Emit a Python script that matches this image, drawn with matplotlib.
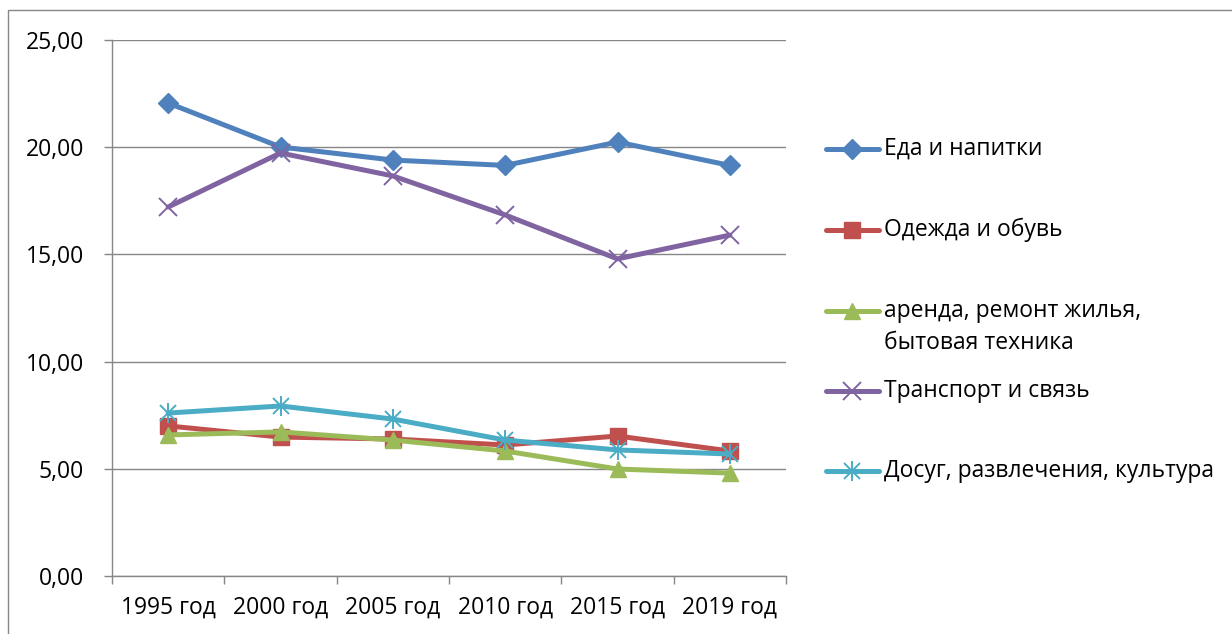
import numpy as np
import matplotlib
matplotlib.use("Agg")
import matplotlib.pyplot as plt
from matplotlib.ticker import FuncFormatter, FixedLocator
from matplotlib.patches import Rectangle

# data
years = ["1995 год", "2000 год", "2005 год", "2010 год", "2015 год", "2019 год"]
food = [22.06, 20.01, 19.40, 19.15, 20.24, 19.15]
clothes = [7.00, 6.48, 6.39, 6.11, 6.53, 5.83]
housing = [6.58, 6.72, 6.34, 5.83, 4.99, 4.80]
transport = [17.21, 19.73, 18.66, 16.84, 14.79, 15.90]
leisure = [7.60, 7.93, 7.32, 6.34, 5.88, 5.69]

labels = ["Еда и напитки", "Одежда и обувь", "аренда, ремонт жилья,\nбытовая техника",
          "Транспорт и связь", "Досуг, развлечения, культура"]
series = [food, clothes, housing, transport, leisure]
colors = ["#4F81BD", "#C0504D", "#9BBB59", "#8064A2", "#4BACC6"]
markers = ["D", "s", "^", "x", "x"]
msizes = [10, 11, 12, 13, 11]

FONT = ["Open Sans", "DejaVu Sans"]
FS = 16.5
GRAY = "#868686"

W, H = 1232, 634
fig = plt.figure(figsize=(W / 100, H / 100), dpi=100)

# outer chart frame (cropped on right and bottom)
fig.patches.append(Rectangle((8 / W, -0.1), 1.2, (H - 10) / H + 0.1, transform=fig.transFigure,
                             fill=False, edgecolor=GRAY, lw=1.0))

ax = fig.add_axes([112 / W, 58 / H, 674 / W, 536 / H])
x = np.arange(len(years))

for vals, c, m, ms in zip(series, colors, markers, msizes):
    ax.plot(x, vals, color=c, lw=3.6, marker=m, ms=ms, mfc=c, mec=c,
            mew=1.4 if m == "x" else 1, solid_capstyle="round", zorder=3)
# the leisure "star" marker: x plus vertical bar
ax.plot(x, leisure, ls="none", marker="|", ms=14, mec=colors[4], mew=1.4, zorder=4)

ax.set_xlim(-0.5, len(years) - 0.5)
ax.set_ylim(0, 25)
ax.set_yticks(np.arange(0, 26, 5))
ax.yaxis.set_major_formatter(FuncFormatter(lambda v, p: f"{v:.2f}".replace(".", ",")))
ax.xaxis.set_major_locator(FixedLocator(np.arange(-0.5, len(years), 1)))
ax.xaxis.set_major_formatter(FuncFormatter(lambda v, p: ""))
ax.xaxis.set_minor_locator(FixedLocator(x))
ax.set_xticklabels(years, minor=True)
ax.tick_params(axis="x", which="minor", length=0, pad=14)
ax.tick_params(axis="x", which="major", length=6, color=GRAY, width=1)
ax.tick_params(axis="y", length=6, color=GRAY, width=1, pad=14)
for t in ax.get_xticklabels(minor=True) + ax.get_yticklabels():
    t.set_family(FONT)
    t.set_fontsize(FS)

ax.grid(axis="y", color=GRAY, lw=1.0)
ax.set_axisbelow(True)
for s in ["top", "right"]:
    ax.spines[s].set_visible(False)
for s in ["left", "bottom"]:
    ax.spines[s].set_color(GRAY)
    ax.spines[s].set_linewidth(1.0)
ax.patch.set_visible(False)

# legend drawn by hand to match the evenly spaced slots of the reference
lg = fig.add_axes([0, 0, 1, 1])
lg.set_xlim(0, W)
lg.set_ylim(H, 0)
lg.axis("off")
slots = [149, 230, 311, 391, 471]
for lab, c, m, ms, yy in zip(labels, colors, markers, msizes, slots):
    lg.plot([826, 879], [yy, yy], color=c, lw=3.6, solid_capstyle="round")
    lg.plot([852], [yy], ls="none", marker=m, ms=ms, mfc=c, mec=c, mew=1.4 if m == "x" else 1)
    if c == colors[4]:
        lg.plot([852], [yy], ls="none", marker="|", ms=14, mec=c, mew=1.4)
    for i, line in enumerate(lab.split("\n")):
        lg.text(884, yy + 32 * i, line, va="center", ha="left", family=FONT, fontsize=FS)

fig.savefig("out.png", dpi=100)
